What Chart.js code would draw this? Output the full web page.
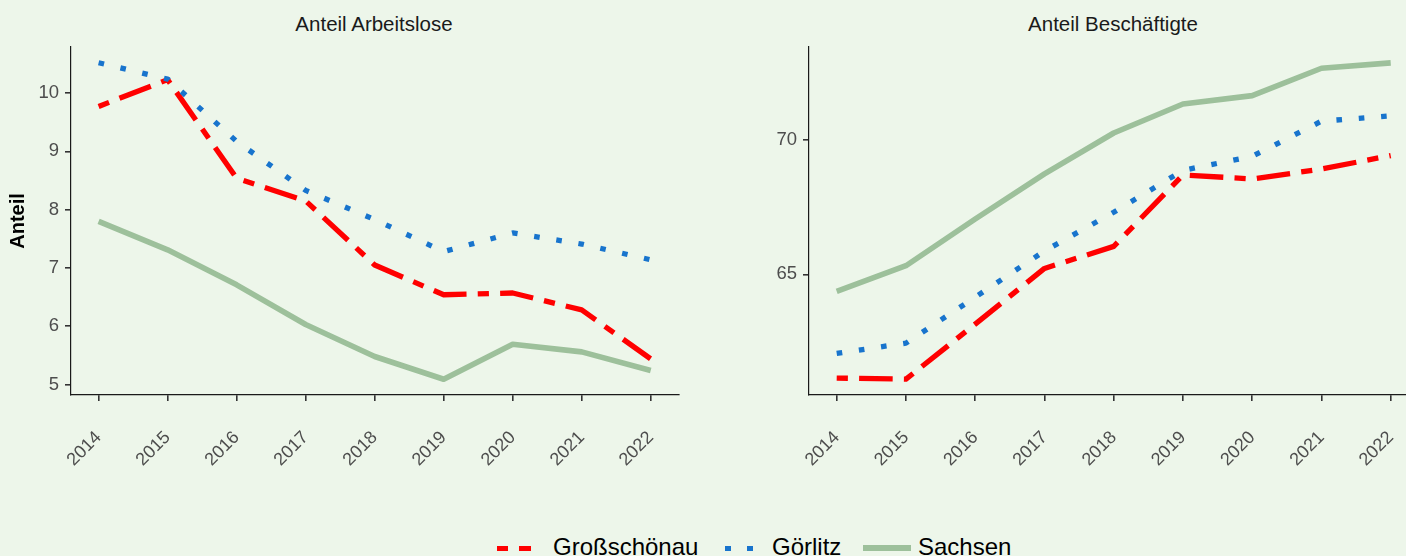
<!DOCTYPE html>
<html><head><meta charset="utf-8">
<script src="https://cdn.jsdelivr.net/npm/chart.js@4.4.1/dist/chart.umd.min.js"></script>
<style>
html,body{margin:0;padding:0;background:#EDF6EA;width:1406px;height:556px;overflow:hidden;position:relative;font-family:"Liberation Sans",Arial,sans-serif;}
.wrap{position:absolute;}
.ptitle{position:absolute;font-size:20.5px;line-height:20px;color:#1a1a1a;white-space:nowrap;transform:translateX(-50%);}
.leg{position:absolute;font-size:24px;line-height:24px;color:#000;white-space:nowrap;}
.sw{position:absolute;}
</style></head>
<body>
<div class="ptitle" style="left:374px;top:14px">Anteil Arbeitslose</div>
<div class="ptitle" style="left:1113px;top:14px">Anteil Beschäftigte</div>
<div class="wrap" style="left:0;top:0;width:692px;height:480px"><canvas id="c1"></canvas></div>
<div class="wrap" style="left:740px;top:0;width:692px;height:480px"><canvas id="c2"></canvas></div>

<div class="sw" style="left:497px;top:546px;width:36px;height:5px;background:repeating-linear-gradient(90deg,#FF0000 0 11.2px,transparent 11.2px 22.4px)"></div>
<div class="leg" style="left:553px;top:534.7px">Großschönau</div>
<div class="sw" style="left:725px;top:546px;width:28px;height:5px;background:repeating-linear-gradient(90deg,#1874CD 0 5.6px,transparent 5.6px 22.4px)"></div>
<div class="leg" style="left:772px;top:534.7px">Görlitz</div>
<div class="sw" style="left:863px;top:545px;width:48px;height:6px;background:#9DC09B"></div>
<div class="leg" style="left:918px;top:534.7px">Sachsen</div>

<script>
const years = [2014, 2015, 2016, 2017, 2018, 2019, 2020, 2021, 2022];
const seriesNames = ["Großschönau", "Görlitz", "Sachsen"];

// Anteil Arbeitslose
const grossAL = [9.77, 10.23, 8.54, 8.15, 7.05, 6.54, 6.57, 6.28, 5.44];
const goerAL  = [10.52, 10.24, 9.17, 8.33, 7.83, 7.28, 7.60, 7.41, 7.14];
const sachsAL = [7.80, 7.31, 6.71, 6.03, 5.48, 5.09, 5.69, 5.56, 5.24];

// Anteil Beschäftigte
const grossB = [61.14, 61.10, 63.15, 65.22, 66.04, 68.70, 68.55, 68.92, 69.42];
const goerB  = [62.06, 62.44, 64.15, 65.87, 67.31, 68.87, 69.39, 70.70, 70.90];
const sachsB = [64.37, 65.32, 67.06, 68.74, 70.26, 71.34, 71.65, 72.67, 72.87];

const yTicksAL = [5, 6, 7, 8, 9, 10];
const yTicksB = [65, 70];

const FAMILY = '"Liberation Sans", Arial, sans-serif';
const U = 5.6;
const styles = [
  {color: '#FF0000', width: 5.3, dash: [2 * U, 2 * U, 6 * U, 2 * U], order: 3},
  {color: '#1874CD', width: 5.3, dash: [U, 3 * U], order: 2},
  {color: '#9DC09B', width: 5.6, dash: [], order: 1}
];

function ds(vals, i) {
  return {
    label: seriesNames[i],
    data: years.map((y, k) => ({x: y, y: vals[k]})),
    borderColor: styles[i].color,
    backgroundColor: styles[i].color,
    borderWidth: styles[i].width,
    borderDash: styles[i].dash,
    borderCapStyle: 'butt',
    borderJoinStyle: 'round',
    pointRadius: 0,
    pointHoverRadius: 0,
    tension: 0,
    fill: false,
    order: styles[i].order
  };
}

function opts(yMin, yMax, yTicks, yTitle, yWidth) {
  const grid = {drawOnChartArea: false, drawTicks: true, tickLength: 6, color: '#333333', lineWidth: 1.6};
  const border = {display: true, color: '#1a1a1a', width: 1.2};
  return {
    responsive: true,
    maintainAspectRatio: false,
    animation: false,
    events: [],
    layout: {padding: {top: 47, right: 0, bottom: 0, left: 0}},
    plugins: {legend: {display: false}, title: {display: false}, tooltip: {enabled: false}},
    scales: {
      x: {
        type: 'linear', min: 2013.6, max: 2022.4,
        afterBuildTicks: s => { s.ticks = years.map(v => ({value: v})); },
        ticks: {color: '#4D4D4D', font: {size: 18, family: FAMILY}, minRotation: 45, maxRotation: 45,
                padding: 26, autoSkip: false, callback: v => String(v)},
        grid: grid, border: border,
        afterFit: s => { s.height = 85; }
      },
      y: {
        type: 'linear', min: yMin, max: yMax,
        afterBuildTicks: s => { s.ticks = yTicks.map(v => ({value: v})); },
        ticks: {color: '#4D4D4D', font: {size: 18.5, family: FAMILY}, padding: 6, callback: v => String(v)},
        grid: grid, border: border,
        title: {display: !!yTitle, text: yTitle || '', color: '#000', font: {size: 20, weight: 'bold', family: FAMILY}, padding: {top: 6, bottom: 0}},
        afterFit: s => { s.width = yWidth; }
      }
    }
  };
}

new Chart(document.getElementById('c1'), {
  type: 'line',
  data: {datasets: [ds(grossAL, 0), ds(goerAL, 1), ds(sachsAL, 2)]},
  options: opts(4.82, 10.79, yTicksAL, 'Anteil', 71)
});
new Chart(document.getElementById('c2'), {
  type: 'line',
  data: {datasets: [ds(grossB, 0), ds(goerB, 1), ds(sachsB, 2)]},
  options: opts(60.51, 73.46, yTicksB, '', 69)
});
</script>
</body></html>
